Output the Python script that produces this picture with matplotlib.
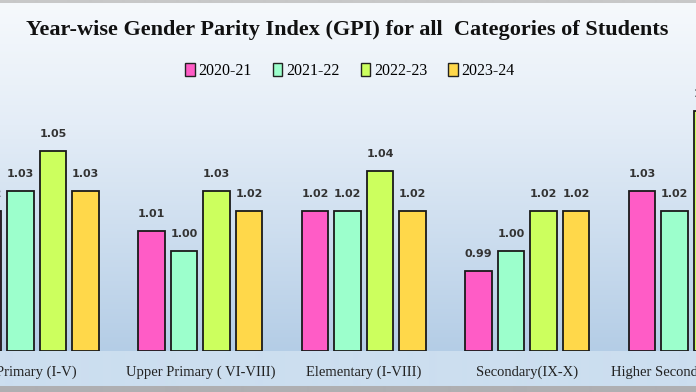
import numpy as np
import matplotlib
matplotlib.use("Agg")
import matplotlib.pyplot as plt
from matplotlib.patches import Patch

categories = ["Primary (I-V)", "Upper Primary ( VI-VIII)", "Elementary (I-VIII)",
              "Secondary(IX-X)", "Higher Secondary (XI-XII)"]
years = ["2020-21", "2021-22", "2022-23", "2023-24"]
gpi_2020_21 = [1.02, 1.01, 1.02, 0.99, 1.03]
gpi_2021_22 = [1.03, 1.00, 1.02, 1.00, 1.02]
gpi_2022_23 = [1.05, 1.03, 1.04, 1.02, 1.07]
gpi_2023_24 = [1.03, 1.02, 1.02, 1.02, 1.05]
series = [gpi_2020_21, gpi_2021_22, gpi_2022_23, gpi_2023_24]
colors = ["#ff5cc6", "#9cffcc", "#ccff5e", "#ffd84a"]

W, H = 696, 392
fig = plt.figure(figsize=(W / 100, H / 100), dpi=100)

# background gradient
bg = fig.add_axes([0, 0, 1, 1])
bg.set_axis_off()
img = np.zeros((H, 1, 3))
top_c = np.array([246, 249, 252]) / 255
mid_c = np.array([228, 237, 247]) / 255
bot_c = np.array([180, 205, 230]) / 255
for r in range(H):
    if r < 3:
        c = np.array([200, 200, 200]) / 255
    elif r < 351:
        t = (r - 3) / (351 - 3)
        if t < 0.35:
            c = top_c + (mid_c - top_c) * (t / 0.35)
        else:
            c = mid_c + (bot_c - mid_c) * ((t - 0.35) / 0.65)
    elif r < 386:
        c = np.array([204, 222, 239]) / 255
    else:
        c = np.array([175, 175, 178]) / 255
    img[r, 0] = c
bg.imshow(img, aspect="auto", extent=[0, 1, 0, 1], interpolation="bilinear")
bg.set_xlim(0, 1)
bg.set_ylim(0, 1)

base_px = 350.7
top_px = 95.0
px_per_unit = 2000.0
ax = fig.add_axes([0, (H - base_px) / H, 1, (base_px - top_px) / H])
ax.patch.set_alpha(0)
ymin = 0.95
ax.set_ylim(ymin, ymin + (base_px - top_px) / px_per_unit)
gp = 163.5
c0 = 36.8
ax.set_xlim(-c0 / gp, (W - c0) / gp)

x = np.arange(len(categories))
pitch = 32.5 / gp
width = 26.5 / gp
for i, (vals, col) in enumerate(zip(series, colors)):
    xs = x + (i - 1.5) * pitch
    ax.bar(xs, np.array(vals) - ymin, bottom=ymin, width=width,
           color=col, edgecolor="#1a1a1a", linewidth=1.3, zorder=3)
    for xi, v in zip(xs, vals):
        ax.annotate(f"{v:.2f}", (xi, v), xytext=(0, 12.2), textcoords="offset points",
                    ha="center", va="center", fontsize=8, fontweight="bold",
                    family="DejaVu Sans", color="#333333", annotation_clip=False)

for s in ax.spines.values():
    s.set_visible(False)
ax.set_yticks([])
ax.set_xticks(x)
ax.set_xticklabels(categories, family="Liberation Serif", fontsize=10.5, color="#222222")
ax.tick_params(axis="x", length=0, pad=11)

fig.text(347 / W, 1 - 30 / H, "Year-wise Gender Parity Index (GPI) for all  Categories of Students",
         ha="center", va="center", family="Liberation Serif", fontweight="bold",
         fontsize=16, color="#111111")

handles = [Patch(facecolor=c, edgecolor="#222222", linewidth=1.0) for c in colors]
fig.legend(handles, years, loc="center", bbox_to_anchor=(350 / W, 1 - 71 / H), ncol=4,
           frameon=False, handlelength=0.6, handleheight=0.8, handletextpad=0.25,
           columnspacing=1.3, prop={"family": "Liberation Serif", "size": 11.5})

fig.savefig("out.png", dpi=100)
